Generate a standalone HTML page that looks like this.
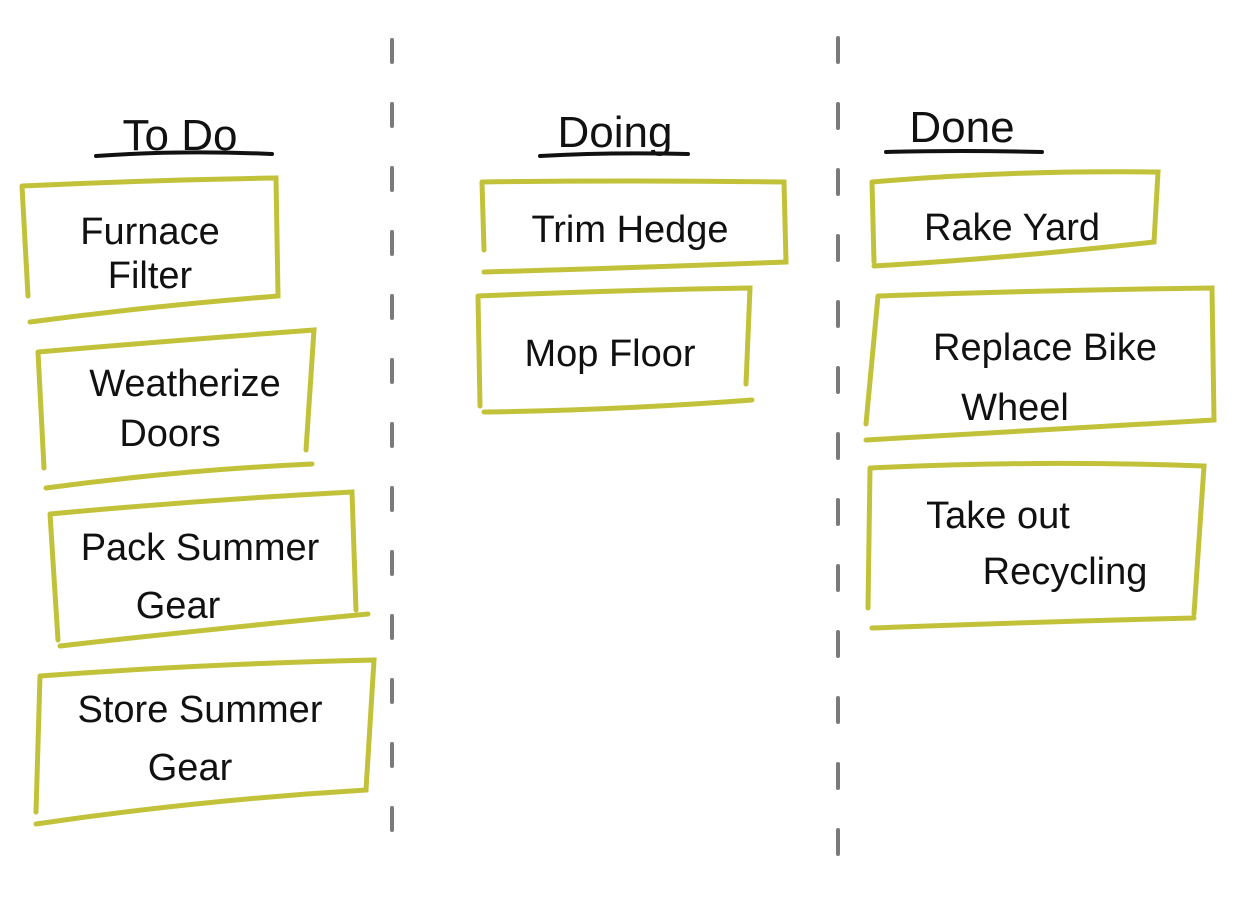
<!DOCTYPE html>
<html><head><meta charset="utf-8"><style>
html,body{margin:0;padding:0;background:#fff;}
svg{display:block}
text{font-family:"Liberation Sans",sans-serif;fill:#111;}
</style></head><body>
<svg width="1246" height="900" viewBox="0 0 1246 900">
<g stroke="#7a7a7a" stroke-width="4" stroke-linecap="round" fill="none">
<path d="M392 40V850" stroke-dasharray="22 42"/>
<path d="M838 38V895" stroke-dasharray="24 42"/>
</g>
<g stroke="#111" stroke-width="4" stroke-linecap="round" fill="none">
<path d="M96 156 Q180 150 272 154"/>
<path d="M540 156 Q610 152 688 154"/>
<path d="M886 152 Q960 150 1042 152"/>
</g>
<g font-size="44" text-anchor="middle">
<text x="180" y="150">To Do</text>
<text x="615" y="147">Doing</text>
<text x="962" y="142">Done</text>
</g>
<g stroke="#c2c23a" stroke-width="5" stroke-linecap="round" fill="none">
<path d="M22 186 Q150 180 276 178 L278 296 Q150 306 30 322 M22 186 L28 296"/>
<path d="M38 352 Q180 340 314 330 L306 450 M312 464 Q180 470 46 488 M38 352 L44 468"/>
<path d="M50 514 Q200 500 352 492 L356 610 M368 614 Q200 630 60 646 M50 514 L58 640"/>
<path d="M40 676 Q200 664 374 660 L366 790 Q200 800 36 824 M40 676 L36 812"/>
<path d="M482 182 Q630 180 784 182 L786 262 Q630 268 484 272 M482 182 L484 250"/>
<path d="M478 296 Q620 290 750 288 L746 384 M752 400 Q620 410 484 412 M478 296 L480 406"/>
<path d="M872 182 Q1010 170 1158 172 L1154 242 Q1010 258 874 266 M872 182 L874 262"/>
<path d="M878 296 Q1050 290 1212 288 L1214 420 Q1050 430 866 440 M878 296 L866 424"/>
<path d="M870 468 Q1040 460 1204 466 L1194 614 M1194 618 Q1030 622 872 628 M870 468 L868 608"/>
</g>
<g font-size="38" text-anchor="middle">
<text x="150" y="244">Furnace</text>
<text x="150" y="288">Filter</text>
<text x="185" y="396">Weatherize</text>
<text x="170" y="446">Doors</text>
<text x="200" y="560">Pack Summer</text>
<text x="178" y="618">Gear</text>
<text x="200" y="722">Store Summer</text>
<text x="190" y="780">Gear</text>
<text x="630" y="242">Trim Hedge</text>
<text x="610" y="366">Mop Floor</text>
<text x="1012" y="240">Rake Yard</text>
<text x="1045" y="360">Replace Bike</text>
<text x="1015" y="420">Wheel</text>
<text x="998" y="528">Take out</text>
<text x="1065" y="584">Recycling</text>
</g>
</svg>
</body></html>
